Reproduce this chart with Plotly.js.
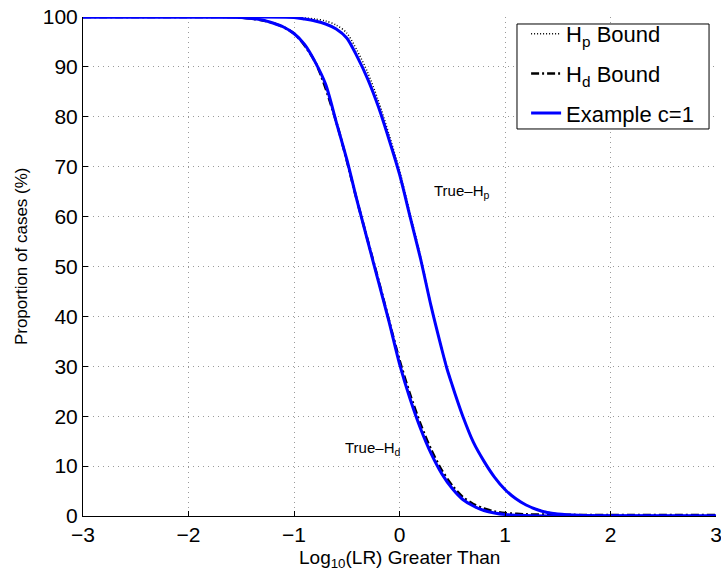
<!DOCTYPE html>
<html>
<head>
<meta charset="utf-8">
<script src="https://cdn.plot.ly/plotly-3.0.1.min.js"></script>
<style>html,body{margin:0;padding:0;background:#fff;}#chart{width:721px;height:570px;}</style>
</head>
<body>
<div id="chart"></div>
<script>
// x positions (log10 LR) and proportions (%)
const xHd = [-3, -2, -1.5, -1.3, -1.2, -1.1, -1.0, -0.9, -0.8, -0.7, -0.6, -0.5, -0.4, -0.3, -0.2, -0.1, 0, 0.1, 0.2, 0.3, 0.4, 0.5, 0.6, 0.7, 0.8, 0.9, 1.0, 1.2, 1.5, 3];
const yHd = [100, 100, 99.9, 99.4, 98.8, 98, 96.7, 94.5, 91, 86.5, 79, 71.5, 63, 55, 47, 39, 30.5, 23.5, 17.5, 12.5, 8.5, 5.5, 3.3, 2, 1.1, 0.6, 0.3, 0.1, 0, 0];

const xHp = [-3, -1.5, -1.0, -0.9, -0.8, -0.7, -0.6, -0.5, -0.4, -0.3, -0.2, -0.1, 0, 0.1, 0.2, 0.3, 0.4, 0.45, 0.5, 0.55, 0.6, 0.7, 0.8, 0.9, 1.0, 1.1, 1.2, 1.3, 1.4, 1.5, 1.7, 2, 3];
const yHp = [100, 100, 99.9, 99.6, 99.2, 98.6, 97.6, 95.8, 92, 87.5, 82, 75.5, 68.5, 60, 51.5, 42, 33.5, 29.5, 26.2, 23, 20, 14.8, 11, 7.8, 5.3, 3.5, 2.2, 1.3, 0.7, 0.4, 0.15, 0.05, 0];

// bounds (nearly coincident with example curves)
const xHpBound = [-3, -1.5, -1.0, -0.9, -0.8, -0.7, -0.6, -0.5, -0.4, -0.3, -0.2, -0.1, 0, 0.1, 0.2, 0.3, 0.4, 0.5, 0.6, 0.7, 0.8, 0.9, 1.0, 1.2, 1.5, 2, 3];
const yHpBound = [100, 100, 99.95, 99.8, 99.6, 99.2, 98.4, 96.8, 93.2, 88.8, 83.2, 76.5, 69.3, 60.6, 52, 42.2, 33.6, 26.3, 20.1, 14.8, 11, 7.8, 5.3, 2.2, 0.4, 0.05, 0];

const xHdBound = [-3, -2, -1.5, -1.2, -1.0, -0.8, -0.6, -0.4, -0.2, 0, 0.1, 0.2, 0.3, 0.4, 0.5, 0.6, 0.7, 0.8, 0.9, 1.0, 1.2, 1.5, 2, 3];
const yHdBound = [100, 100, 99.9, 98.8, 96.7, 91, 79, 63, 47.3, 31.3, 24.4, 18.4, 13.3, 9.2, 6.1, 3.8, 2.4, 1.5, 0.9, 0.6, 0.35, 0.25, 0.2, 0.2];

const legendNames = ['H<sub>p</sub> Bound', 'H<sub>d</sub> Bound', 'Example c=1'];
const xTicks = [-3, -2, -1, 0, 1, 2, 3];
const yTicks = [0, 10, 20, 30, 40, 50, 60, 70, 80, 90, 100];

const FONT = 'Liberation Sans, Arial, Helvetica, sans-serif';

const traces = [
  {x: xHpBound, y: yHpBound, name: legendNames[0], mode: 'lines', legendgroup: 'a',
   line: {color: '#000', width: 1.5, dash: '1px,2px', shape: 'spline', smoothing: 0.8}},
  {x: xHdBound, y: yHdBound, name: legendNames[1], mode: 'lines', legendgroup: 'b',
   line: {color: '#000', width: 2.5, dash: '8px,3px,2px,3px', shape: 'spline', smoothing: 0.8}},
  {x: xHp, y: yHp, name: legendNames[2], mode: 'lines', legendgroup: 'c',
   line: {color: '#0000ff', width: 3, shape: 'spline', smoothing: 0.8}},
  {x: xHd, y: yHd, name: legendNames[2], mode: 'lines', showlegend: false, legendgroup: 'c',
   line: {color: '#0000ff', width: 3, shape: 'spline', smoothing: 0.8}}
];

const layout = {
  width: 721, height: 570,
  margin: {l: 83, r: 5, t: 17, b: 54},
  paper_bgcolor: '#fff', plot_bgcolor: '#fff',
  font: {family: FONT, color: '#000', size: 20},
  showlegend: true,
  legend: {
    x: 0.700, y: 1.008, xanchor: 'left', yanchor: 'top',
    bgcolor: 'rgba(0,0,0,0)', borderwidth: 0,
    font: {family: FONT, size: 22, color: '#000'},
    tracegroupgap: 8
  },
  shapes: [
    {type: 'rect', xref: 'paper', yref: 'paper', x0: 0.6856, x1: 0.989, y0: 0.7756, y1: 0.986,
     line: {color: '#000', width: 1}, fillcolor: '#fff', layer: 'above'}
  ],
  xaxis: {
    range: [-3, 3], tickvals: xTicks, ticktext: xTicks.map(v => v < 0 ? '\u2212' + Math.abs(v) : String(v)),
    showline: true, linecolor: '#000', linewidth: 1, mirror: false,
    ticks: 'inside', ticklen: 5, tickcolor: '#000', ticklabeloverflow: 'allow',
    showgrid: true, gridcolor: '#9a9a9a', gridwidth: 1, griddash: '1px,4px',
    zeroline: false, tickfont: {size: 21, family: FONT}
  },
  yaxis: {
    range: [0, 100], tickvals: yTicks,
    showline: true, linecolor: '#000', linewidth: 1, mirror: false,
    ticks: 'inside', ticklen: 5, tickcolor: '#000',
    showgrid: true, gridcolor: '#9a9a9a', gridwidth: 1, griddash: '1px,4px',
    zeroline: false, tickfont: {size: 21, family: FONT}
  },
  annotations: [
    {x: 0.31, y: 65, xref: 'x', yref: 'y', xanchor: 'left', yanchor: 'middle', showarrow: false,
     text: 'True\u2013H<sub>p</sub>', font: {size: 15, family: FONT}},
    {x: -0.54, y: 13.5, xref: 'x', yref: 'y', xanchor: 'left', yanchor: 'middle', showarrow: false,
     text: 'True\u2013H<sub>d</sub>', font: {size: 15, family: FONT}},
    {x: 0.5, y: -0.086, xref: 'paper', yref: 'paper', xanchor: 'center', yanchor: 'middle', showarrow: false,
     text: 'Log<sub>10</sub>(LR) Greater Than', font: {size: 19, family: FONT}},
    {x: -0.097, y: 0.52, xref: 'paper', yref: 'paper', xanchor: 'center', yanchor: 'middle', showarrow: false,
     textangle: -90, text: 'Proportion of cases (%)', font: {size: 17, family: FONT}}
  ]
};

Plotly.newPlot('chart', traces, layout, {staticPlot: true, displayModeBar: false});
</script>
</body>
</html>
